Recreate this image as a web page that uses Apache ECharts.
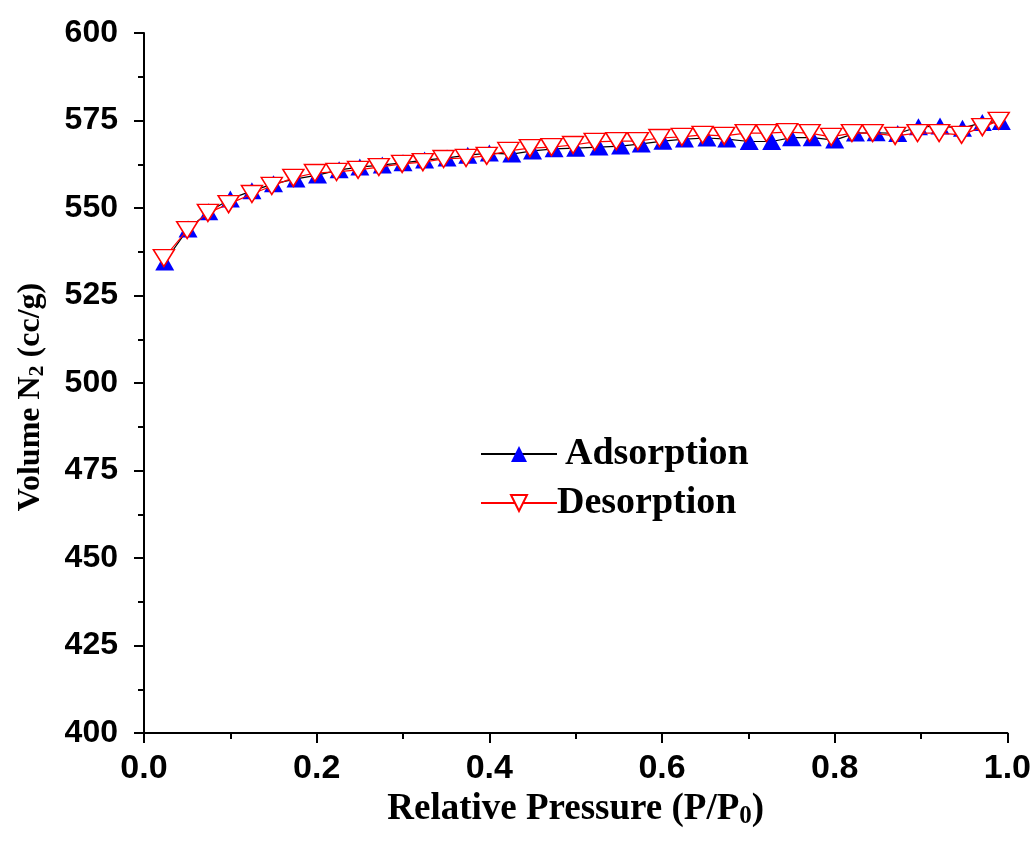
<!DOCTYPE html>
<html>
<head>
<meta charset="utf-8">
<script src="https://cdn.jsdelivr.net/npm/echarts@6/dist/echarts.min.js"></script>
<style>html,body{margin:0;padding:0;background:#fff;}#c{width:1034px;height:859px;}</style>
</head>
<body>
<div id="c"></div>
<script>
var adsX = [0.024,0.051,0.075,0.1,0.125,0.15,0.176,0.201,0.226,0.25,0.276,0.3,0.325,0.351,0.375,0.4,0.426,0.45,0.475,0.5,0.527,0.552,0.576,0.601,0.626,0.652,0.675,0.701,0.727,0.75,0.774,0.8,0.824,0.848,0.873,0.897,0.922,0.948,0.971,0.993];
var adsY = [534.6,544,548.9,552.6,554.9,556.9,558.3,559.4,560.9,561.7,562.3,562.9,563.7,564.3,565.1,565.7,565.4,566.3,566.9,567.1,567.4,567.7,568.3,569.1,569.7,570,569.7,569,569,570.1,570.1,569.4,571.4,571.5,571.3,573.2,573.4,572.8,574.4,574.7];
var desX = [0.023,0.05,0.074,0.098,0.125,0.148,0.173,0.198,0.223,0.248,0.272,0.299,0.323,0.347,0.373,0.397,0.422,0.447,0.472,0.497,0.522,0.547,0.572,0.597,0.623,0.647,0.672,0.697,0.721,0.745,0.771,0.796,0.82,0.844,0.87,0.896,0.921,0.947,0.971,0.99];
var desY = [535.7,543.7,548.6,551.1,554,556.3,558.6,560,560.3,560.9,561.7,562.6,563.1,564,564.3,564.9,566.3,567.1,567.4,568,568.9,569.1,569.1,570,570.3,570.9,570.6,571.4,571.4,571.7,571.4,570.3,571.4,571.4,570.6,571.4,571.4,570.9,573.1,574.9];
var xTicks = {min: 0, max: 1, interval: 0.2};
var yTicks = {min: 400, max: 600, interval: 25};

function pairs(xs, ys) { return xs.map(function (x, i) { return [x, ys[i]]; }); }

var chart = echarts.init(document.getElementById('c'));
var axisLine = {show: true, onZero: false, lineStyle: {color: '#000', width: 2}};
var serif = '"Liberation Serif", "Times New Roman", serif';
var sans = '"Liberation Sans", Arial, sans-serif';
chart.setOption({
  animation: false,
  backgroundColor: '#fff',
  grid: {left: 144, right: 26, top: 33, bottom: 126, containLabel: false},
  xAxis: {
    type: 'value', min: xTicks.min, max: xTicks.max, interval: xTicks.interval,
    axisLine: axisLine,
    axisTick: {show: true, inside: false, length: 10, lineStyle: {color: '#000', width: 2}},
    minorTick: {show: true, splitNumber: 2, length: 6, lineStyle: {color: '#000', width: 2}},
    splitLine: {show: false},
    axisLabel: {margin: 19, color: '#000', fontWeight: 'bold', fontSize: 34, fontFamily: sans,
      formatter: function (v) { return v.toFixed(1); }},
    name: 'Relative Pressure (P/P{sub|0})',
    nameLocation: 'middle', nameGap: 54,
    nameTextStyle: {color: '#000', fontWeight: 'bold', fontSize: 37, fontFamily: serif,
      rich: {sub: {fontSize: 25, fontWeight: 'bold', fontFamily: serif, color: '#000', verticalAlign: 'bottom', padding: [14, 0, 0, 0]}}}
  },
  yAxis: {
    type: 'value', min: yTicks.min, max: yTicks.max, interval: yTicks.interval,
    axisLine: axisLine,
    axisTick: {show: true, inside: false, length: 10, lineStyle: {color: '#000', width: 2}},
    minorTick: {show: true, splitNumber: 2, length: 6, lineStyle: {color: '#000', width: 2}},
    splitLine: {show: false},
    axisLabel: {margin: 26, color: '#000', fontWeight: 'bold', fontSize: 32, fontFamily: sans},
    name: 'Volume N{sub|2} (cc/g)',
    nameLocation: 'middle', nameGap: 96, nameRotate: 90,
    nameTextStyle: {color: '#000', fontWeight: 'bold', fontSize: 32, fontFamily: serif, padding: [0, 28, 0, 0],
      rich: {sub: {fontSize: 22, fontWeight: 'bold', fontFamily: serif, color: '#000', verticalAlign: 'bottom', padding: [12, 0, 0, 0]}}}
  },
  legend: [
    {data: ['Adsorption'], left: 480, top: 435, padding: 0, itemWidth: 76, itemHeight: 20, itemGap: 10,
      textStyle: {color: '#000', fontWeight: 'bold', fontSize: 38, fontFamily: serif, padding: [0, 0, 0, 3]}},
    {data: ['Desorption'], left: 480, top: 484, padding: 0, itemWidth: 76, itemHeight: 20, itemGap: 10,
      textStyle: {color: '#000', fontWeight: 'bold', fontSize: 38, fontFamily: serif, padding: [0, 0, 0, -5]}}
  ],
  series: [
    {name: 'Adsorption', type: 'line', data: pairs(adsX, adsY), symbol: 'triangle', symbolSize: [19, 17],
      itemStyle: {color: '#0000ff', borderWidth: 0},
      lineStyle: {color: '#000', width: 1.2}, z: 2},
    {name: 'Desorption', type: 'line', data: pairs(desX, desY), symbol: 'triangle', symbolSize: [21, 17], symbolRotate: 180,
      itemStyle: {color: '#fff', borderColor: '#ff0000', borderWidth: 1.5},
      lineStyle: {color: '#ff0000', width: 1.2}, z: 3}
  ]
});
</script>
</body>
</html>
